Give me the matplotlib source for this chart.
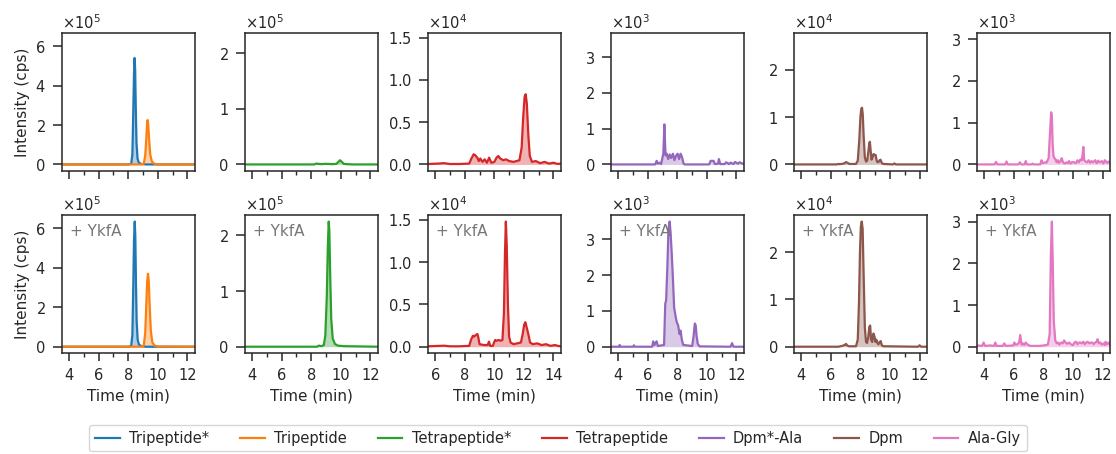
import numpy as np
import matplotlib.pyplot as plt
from matplotlib.ticker import MultipleLocator
from matplotlib.lines import Line2D

# compound names, colours and the power of ten each column is shown in
compounds = ['Tripeptide*', 'Tripeptide', 'Tetrapeptide*', 'Tetrapeptide',
             'Dpm*-Ala', 'Dpm', 'Ala-Gly']
colors = ['C0', 'C1', 'C2', 'C3', 'C4', 'C5', 'C6']
scales = [1e5, 1e5, 1e5, 1e4, 1e3, 1e4, 1e3]

# extracted ion chromatograms, (time in min, intensity in units of scale)
# "ctrl" = without enzyme, "ykfa" = + YkfA
tri_star_ctrl = np.array([
    (3.5, 0), (8.0, 0), (8.2, 0.03), (8.28, 0.5), (8.34, 2.6), (8.39, 4.6),
    (8.43, 5.4), (8.47, 4.8), (8.51, 2.9), (8.56, 1.1), (8.63, 0.3),
    (8.72, 0.08), (8.9, 0.02), (9.2, 0), (12.5, 0)])
tri_ctrl = np.array([
    (3.5, 0), (8.9, 0), (9.05, 0.04), (9.15, 0.45), (9.22, 1.3), (9.27, 2.0),
    (9.31, 2.25), (9.35, 2.05), (9.41, 1.3), (9.49, 0.5), (9.6, 0.15),
    (9.75, 0.04), (10.0, 0), (12.5, 0)])
tri_star_ykfa = np.array([
    (3.5, 0), (8.0, 0), (8.2, 0.04), (8.28, 0.6), (8.34, 3.0), (8.39, 5.4),
    (8.44, 6.35), (8.48, 5.6), (8.52, 3.4), (8.57, 1.3), (8.64, 0.35),
    (8.73, 0.1), (8.9, 0.03), (9.2, 0), (12.5, 0)])
tri_ykfa = np.array([
    (3.5, 0), (8.9, 0), (9.05, 0.06), (9.15, 0.7), (9.22, 2.1), (9.28, 3.3),
    (9.34, 3.7), (9.39, 3.3), (9.45, 2.1), (9.53, 0.8), (9.63, 0.22),
    (9.78, 0.06), (10.0, 0.01), (12.5, 0)])

tetra_star_ctrl = np.array([
    (3.5, 0), (8.2, 0), (8.35, 0.015), (8.5, 0.01), (8.7, 0.005), (8.9, 0.01),
    (9.1, 0.01), (9.4, 0.005), (9.7, 0.01), (9.85, 0.05), (9.95, 0.075),
    (10.05, 0.05), (10.2, 0.01), (10.4, 0.005), (10.8, 0), (12.5, 0)])
tetra_star_ykfa = np.array([
    (3.5, 0), (8.4, 0), (8.5, 0.02), (8.7, 0.01), (8.85, 0.03), (8.95, 0.2),
    (9.05, 0.9), (9.12, 1.8), (9.18, 2.25), (9.22, 2.1), (9.28, 1.3),
    (9.35, 0.5), (9.45, 0.15), (9.6, 0.05), (9.8, 0.02), (10.2, 0.01),
    (12.5, 0)])

tetra_ctrl = np.array([
    (5.5, 0.005), (6.2, 0.01), (6.6, 0.015), (7.0, 0.005), (7.6, 0.005),
    (8.3, 0.01), (8.45, 0.07), (8.6, 0.12), (8.7, 0.11), (8.85, 0.08),
    (8.95, 0.04), (9.05, 0.07), (9.2, 0.03), (9.35, 0.06), (9.5, 0.02),
    (9.65, 0.08), (9.8, 0.02), (10.0, 0.03), (10.15, 0.08), (10.27, 0.1),
    (10.4, 0.07), (10.6, 0.05), (10.8, 0.06), (11.0, 0.04), (11.3, 0.03),
    (11.5, 0.04), (11.7, 0.05), (11.85, 0.2), (11.95, 0.55), (12.05, 0.8),
    (12.12, 0.83), (12.2, 0.72), (12.3, 0.35), (12.4, 0.1), (12.55, 0.03),
    (12.8, 0.04), (13.1, 0.015), (13.4, 0.03), (13.7, 0.01), (14.0, 0.02),
    (14.3, 0.005), (14.5, 0.01)])
tetra_ykfa = np.array([
    (5.5, 0.005), (6.3, 0.01), (6.6, 0.012), (7.0, 0.005), (7.6, 0.005),
    (8.3, 0.01), (8.42, 0.08), (8.55, 0.13), (8.64, 0.12), (8.75, 0.14),
    (8.86, 0.15), (8.93, 0.1), (9.0, 0.03), (9.3, 0.02), (9.55, 0.02),
    (9.64, 0.06), (9.72, 0.01), (9.9, 0.01), (9.98, 0.05), (10.06, 0.08),
    (10.15, 0.07), (10.3, 0.08), (10.42, 0.07), (10.55, 0.08), (10.65, 0.4),
    (10.72, 1.1), (10.78, 1.48), (10.84, 1.2), (10.92, 0.5), (11.0, 0.12),
    (11.1, 0.05), (11.3, 0.03), (11.55, 0.04), (11.8, 0.05), (11.92, 0.15),
    (12.02, 0.26), (12.1, 0.29), (12.2, 0.22), (12.3, 0.15), (12.42, 0.05),
    (12.6, 0.03), (12.9, 0.04), (13.2, 0.02), (13.5, 0.03), (13.8, 0.01),
    (14.1, 0.02), (14.3, 0.01), (14.5, 0.005)])

dpm_ala_ctrl = np.array([
    (3.5, 0), (6.5, 0), (6.6, 0.1), (6.68, 0.02), (6.8, 0.05), (6.9, 0.01),
    (7.05, 0.3), (7.12, 1.12), (7.2, 0.25), (7.28, 0.3), (7.38, 0.15),
    (7.48, 0.28), (7.58, 0.18), (7.7, 0.3), (7.8, 0.12), (7.92, 0.25),
    (8.02, 0.3), (8.12, 0.15), (8.22, 0.3), (8.32, 0.2), (8.42, 0.02),
    (8.5, 0), (10.15, 0), (10.25, 0.1), (10.45, 0.1), (10.55, 0.01),
    (10.75, 0.02), (10.81, 0.15), (10.9, 0.01), (11.2, 0.01), (11.3, 0.06),
    (11.5, 0.01), (11.6, 0.05), (11.8, 0.01), (11.9, 0.07), (12.1, 0.02),
    (12.2, 0.06), (12.5, 0.01)])
dpm_ala_ykfa = np.array([
    (3.5, 0), (4.05, 0), (4.1, 0.05), (4.15, 0), (5.0, 0), (5.06, 0.04),
    (5.12, 0), (6.3, 0), (6.36, 0.15), (6.45, 0.05), (6.55, 0.12),
    (6.6, 0.15), (6.68, 0.02), (7.1, 0.05), (7.18, 1.2), (7.24, 1.3),
    (7.32, 2.2), (7.4, 3.3), (7.48, 3.5), (7.54, 3.2), (7.62, 2.6),
    (7.7, 1.9), (7.78, 1.1), (7.86, 0.9), (7.95, 0.7), (8.05, 0.6),
    (8.15, 0.35), (8.22, 0.45), (8.3, 0.2), (8.4, 0.05), (9.0, 0.02),
    (9.1, 0.3), (9.18, 0.65), (9.24, 0.6), (9.3, 0.3), (9.38, 0.08),
    (9.5, 0.01), (11.6, 0), (11.7, 0.1), (11.8, 0), (12.5, 0)])

dpm_ctrl = np.array([
    (3.5, 0), (6.4, 0), (6.5, 0.01), (6.6, 0.005), (6.9, 0.02), (7.03, 0.05),
    (7.15, 0.03), (7.25, 0.01), (7.7, 0.01), (7.82, 0.08), (7.92, 0.5),
    (8.0, 1.0), (8.06, 1.18), (8.11, 1.2), (8.16, 1.05), (8.22, 0.6),
    (8.3, 0.15), (8.38, 0.06), (8.46, 0.08), (8.53, 0.25), (8.6, 0.45),
    (8.64, 0.48), (8.69, 0.3), (8.75, 0.1), (8.82, 0.15), (8.89, 0.22),
    (8.95, 0.2), (9.03, 0.2), (9.1, 0.08), (9.15, 0.05), (9.22, 0.05),
    (9.3, 0.09), (9.36, 0.1), (9.45, 0.03), (9.55, 0.01), (10.2, 0),
    (10.3, 0.02), (10.4, 0), (12.5, 0)])
dpm_ykfa = np.array([
    (3.5, 0), (6.5, 0), (6.8, 0.02), (6.95, 0.04), (7.02, 0.06), (7.1, 0.03),
    (7.2, 0.01), (7.7, 0.01), (7.82, 0.15), (7.9, 0.9), (7.97, 2.0),
    (8.03, 2.55), (8.09, 2.65), (8.15, 2.5), (8.22, 1.5), (8.3, 0.4),
    (8.38, 0.1), (8.45, 0.08), (8.53, 0.2), (8.6, 0.42), (8.66, 0.45),
    (8.72, 0.15), (8.8, 0.1), (8.88, 0.28), (8.95, 0.22), (9.02, 0.1),
    (9.08, 0.15), (9.15, 0.08), (9.22, 0.05), (9.3, 0.1), (9.37, 0.12),
    (9.45, 0.03), (9.55, 0.01), (11.9, 0), (12.0, 0.03), (12.1, 0),
    (12.5, 0)])

ala_gly_ctrl = np.array([
    (3.5, 0), (4.7, 0), (4.79, 0.06), (4.88, 0), (5.42, 0), (5.5, 0.07),
    (5.58, 0), (6.3, 0), (6.4, 0.05), (6.5, 0), (6.72, 0), (6.8, 0.08),
    (6.88, 0), (7.2, 0), (7.26, 0.02), (7.32, 0), (7.78, 0), (7.87, 0.1),
    (7.95, 0.03), (8.1, 0.05), (8.2, 0.04), (8.35, 0.15), (8.45, 0.8),
    (8.52, 1.25), (8.57, 1.15), (8.62, 0.5), (8.68, 0.2), (8.74, 0.15),
    (8.82, 0.12), (8.9, 0.05), (8.97, 0.1), (9.05, 0.04), (9.15, 0.08),
    (9.24, 0.15), (9.32, 0.05), (9.45, 0.02), (9.55, 0.05), (9.65, 0.03),
    (9.73, 0.08), (9.82, 0.02), (9.95, 0.06), (10.07, 0.05), (10.2, 0.03),
    (10.3, 0.1), (10.4, 0.05), (10.5, 0.12), (10.6, 0.1), (10.65, 0.25),
    (10.7, 0.42), (10.76, 0.1), (10.85, 0.07), (10.95, 0.05), (11.05, 0.1),
    (11.15, 0.04), (11.25, 0.08), (11.35, 0.05), (11.5, 0.1), (11.6, 0.03),
    (11.7, 0.09), (11.8, 0.05), (11.95, 0.08), (12.05, 0.02), (12.15, 0.1),
    (12.3, 0.04), (12.4, 0.07), (12.5, 0.03)])
ala_gly_ykfa = np.array([
    (3.5, 0.03), (3.85, 0.02), (3.95, 0.1), (4.05, 0.02), (4.4, 0.03),
    (4.66, 0.02), (4.74, 0.1), (4.82, 0.02), (5.25, 0.02), (5.35, 0.08),
    (5.45, 0.02), (5.95, 0.03), (6.03, 0.1), (6.12, 0.05), (6.25, 0.06),
    (6.35, 0.1), (6.43, 0.28), (6.52, 0.05), (6.62, 0.08), (6.7, 0.04),
    (6.8, 0.1), (6.93, 0.05), (7.1, 0.02), (7.7, 0.02), (8.0, 0.03),
    (8.3, 0.05), (8.42, 0.3), (8.5, 2.2), (8.57, 3.0), (8.63, 2.0),
    (8.7, 0.6), (8.8, 0.15), (8.9, 0.08), (9.0, 0.1), (9.07, 0.05),
    (9.2, 0.1), (9.3, 0.08), (9.4, 0.15), (9.5, 0.1), (9.6, 0.07),
    (9.74, 0.1), (9.85, 0.06), (10.0, 0.04), (10.1, 0.1), (10.2, 0.12),
    (10.3, 0.06), (10.4, 0.1), (10.5, 0.1), (10.6, 0.08), (10.7, 0.12),
    (10.8, 0.06), (10.9, 0.1), (10.98, 0.12), (11.1, 0.08), (11.2, 0.1),
    (11.3, 0.1), (11.4, 0.06), (11.5, 0.1), (11.6, 0.12), (11.66, 0.18),
    (11.75, 0.08), (11.85, 0.1), (11.95, 0.05), (12.05, 0.08), (12.15, 0.04),
    (12.2, 0.12), (12.3, 0.06), (12.4, 0.1), (12.5, 0.05)])

# which compounds go in each column, and per-column axis settings
columns = [[0, 1], [2], [3], [4], [5], [6]]
ctrl_traces = [tri_star_ctrl, tri_ctrl, tetra_star_ctrl, tetra_ctrl,
               dpm_ala_ctrl, dpm_ctrl, ala_gly_ctrl]
ykfa_traces = [tri_star_ykfa, tri_ykfa, tetra_star_ykfa, tetra_ykfa,
               dpm_ala_ykfa, dpm_ykfa, ala_gly_ykfa]
xlims = [(3.5, 12.5), (3.5, 12.5), (5.5, 14.5), (3.5, 12.5), (3.5, 12.5), (3.5, 12.5)]
ysteps = [2, 1, 0.5, 1, 1, 1]

plt.rcParams.update({
    'font.family': 'DejaVu Sans',
    'font.size': 10.5,
    'axes.labelsize': 11,
    'xtick.labelsize': 10.5,
    'ytick.labelsize': 10.5,
    'legend.fontsize': 10.5,
    'text.color': '.15',
    'axes.labelcolor': '.15',
    'axes.edgecolor': '.15',
    'xtick.color': '.15',
    'ytick.color': '.15',
    'axes.linewidth': 1.1,
    'xtick.major.size': 6,
    'ytick.major.size': 6.5,
    'xtick.minor.size': 3,
    'xtick.major.width': 1.1,
    'ytick.major.width': 1.1,
    'xtick.minor.width': 1.0,
    'xtick.major.pad': 4.5,
    'ytick.major.pad': 5,
})

fig, axes = plt.subplots(2, 6, figsize=(11.16, 4.54), dpi=100,
                         sharex='col', sharey='col')
fig.subplots_adjust(left=0.0553, right=0.9946, top=0.9273, bottom=0.2225,
                    wspace=0.376, hspace=0.324)

for row, traces in enumerate([ctrl_traces, ykfa_traces]):
    for col, idxs in enumerate(columns):
        ax = axes[row, col]
        for i in idxs:
            t = traces[i][:, 0]
            y = traces[i][:, 1] * scales[i]
            ax.fill_between(t, y, color=colors[i], alpha=0.35, lw=0)
            ax.plot(t, y, color=colors[i], lw=1.6)
        ax.set_xlim(*xlims[col])
        ax.xaxis.set_major_locator(MultipleLocator(2))
        ax.xaxis.set_minor_locator(MultipleLocator(1))
        ax.yaxis.set_major_locator(MultipleLocator(ysteps[col] * scales[idxs[0]]))
        ax.ticklabel_format(axis='y', style='sci', scilimits=(0, 0), useMathText=True)
        if row == 1:
            ax.set_xlabel('Time (min)')
            ax.text(0.06, 0.885, '+ YkfA', transform=ax.transAxes,
                    color='#777777', fontsize=11, va='center', ha='left')
        if col == 0:
            ax.set_ylabel('Intensity (cps)')

handles = [Line2D([], [], color=c, lw=1.6) for c in colors]
fig.legend(handles, compounds, loc='center', ncol=7,
           bbox_to_anchor=(0.5, 0.035), handlelength=1.7,
           handletextpad=0.65, columnspacing=2.1)

fig.savefig('out.png', dpi=100)
